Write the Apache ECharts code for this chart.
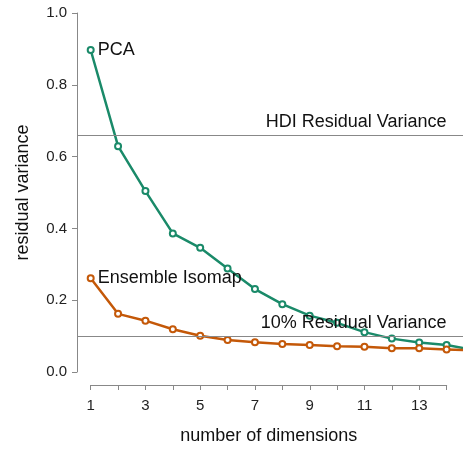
<!DOCTYPE html>
<html>
<head>
<meta charset="utf-8">
<script src="https://cdn.jsdelivr.net/npm/echarts@6/dist/echarts.min.js"></script>
<style>
html,body{margin:0;padding:0;background:#fff;}
#c{width:463px;height:450px;}
</style>
</head>
<body>
<div id="c"></div>
<script>
// data
var dims = [1, 2, 3, 4, 5, 6, 7, 8, 9, 10, 11, 12, 13, 14, 15];
var pcaValues = [0.897, 0.629, 0.504, 0.386, 0.346, 0.288, 0.231, 0.189, 0.157, 0.137, 0.111, 0.093, 0.082, 0.075, 0.061];
var isomapValues = [0.261, 0.162, 0.143, 0.119, 0.101, 0.089, 0.083, 0.078, 0.075, 0.072, 0.070, 0.066, 0.066, 0.063, 0.060];
var hdiResidual = 0.659;
var tenPercent = 0.1;
var yTicks = [0.0, 0.2, 0.4, 0.6, 0.8, 1.0];
var xTickLabels = [1, 3, 5, 7, 9, 11, 13];
var seriesNames = ['PCA', 'Ensemble Isomap'];
var refLabels = ['HDI Residual Variance', '10% Residual Variance'];

var FONT = 'Liberation Sans, Arial, Helvetica, sans-serif';
var GREEN = '#1a8a69';
var ORANGE = '#c45808';

function build(vals, name) {
  return dims.map(function (d, i) {
    var item = { value: [d, vals[i]] };
    if (i === 0) {
      item.label = { show: true, formatter: name, position: 'right', distance: 3,
        color: '#111', fontSize: 18, fontFamily: FONT };
    }
    return item;
  });
}

var chart = echarts.init(document.getElementById('c'), null, { renderer: 'canvas' });
var option = {
  backgroundColor: '#fff',
  animation: false,
  grid: [
    { left: 77, right: 0, top: 13, bottom: 78 },
    { left: 90.7, width: 356, top: 13, bottom: 78 }
  ],
  xAxis: [
    { gridIndex: 0, type: 'value', min: 0.5, max: 14.6, show: false },
    { gridIndex: 1, type: 'value', min: 1, max: 14, interval: 1, position: 'bottom', offset: 15,
      axisLine: { show: true, onZero: false, lineStyle: { color: '#888', width: 1 } },
      axisTick: { show: true, length: 5, lineStyle: { color: '#888' } },
      splitLine: { show: false },
      axisLabel: { color: '#222', fontSize: 15, fontFamily: FONT, margin: 13,
        formatter: function (v) { return xTickLabels.indexOf(v) >= 0 ? String(v) : ''; } },
      name: 'number of dimensions', nameLocation: 'middle', nameGap: 42,
      nameTextStyle: { color: '#111', fontSize: 18, fontFamily: FONT }
    }
  ],
  yAxis: [
    { gridIndex: 0, type: 'value', min: 0, max: 1, interval: 0.2,
      axisLine: { show: true, lineStyle: { color: '#888', width: 1 } },
      axisTick: { show: true, length: 5, lineStyle: { color: '#888' } },
      splitLine: { show: false },
      axisLabel: { color: '#222', fontSize: 15, fontFamily: FONT, margin: 10,
        formatter: function (v) {
          for (var i = 0; i < yTicks.length; i++) if (Math.abs(yTicks[i] - v) < 1e-9) return yTicks[i].toFixed(1);
          return '';
        } },
      name: 'residual variance', nameLocation: 'middle', nameGap: 45,
      nameTextStyle: { color: '#111', fontSize: 18, fontFamily: FONT }
    },
    { gridIndex: 1, type: 'value', min: 0, max: 1, show: false }
  ],
  series: [
    { name: seriesNames[0], type: 'line', xAxisIndex: 0, yAxisIndex: 0, clip: true,
      data: build(pcaValues, seriesNames[0]),
      symbol: 'circle', symbolSize: 6, showAllSymbol: true,
      itemStyle: { color: '#fff', borderColor: GREEN, borderWidth: 2 },
      lineStyle: { color: GREEN, width: 2.5 },
      z: 3,
      markLine: {
        silent: true, symbol: 'none', animation: false,
        lineStyle: { color: '#888', width: 1, type: 'solid' },
        label: { show: false },
        data: [{ yAxis: hdiResidual }, { yAxis: tenPercent }]
      },
      markPoint: {
        silent: true, symbol: 'circle', symbolSize: 0,
        label: { show: true, position: [0, 0], align: 'right', verticalAlign: 'bottom',
          offset: [0, -4], color: '#111', fontSize: 18, fontFamily: FONT,
          formatter: function (p) { return p.name; } },
        data: [
          { name: refLabels[0], coord: [14, hdiResidual] },
          { name: refLabels[1], coord: [14, tenPercent] }
        ]
      }
    },
    { name: seriesNames[1], type: 'line', xAxisIndex: 0, yAxisIndex: 0, clip: true,
      data: build(isomapValues, seriesNames[1]),
      symbol: 'circle', symbolSize: 6, showAllSymbol: true,
      itemStyle: { color: '#fff', borderColor: ORANGE, borderWidth: 2 },
      lineStyle: { color: ORANGE, width: 2.5 },
      z: 3
    }
  ]
};
chart.setOption(option);
</script>
</body>
</html>
